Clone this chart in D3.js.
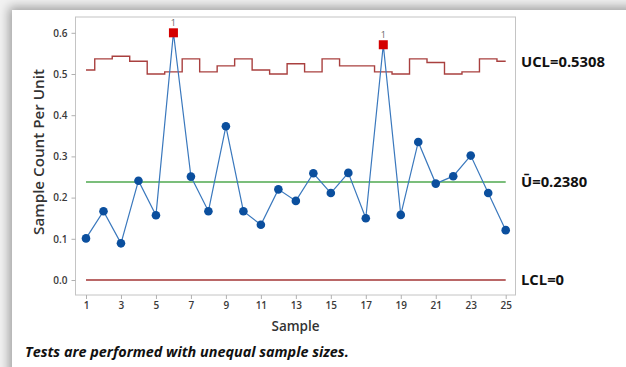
<!DOCTYPE html>
<html>
<head>
<meta charset="utf-8">
<script src="https://cdn.jsdelivr.net/npm/d3@7"></script>
<style>
  html, body { margin: 0; padding: 0; width: 626px; height: 367px; overflow: hidden; background: #f2f2f2; }
  #card { position: absolute; left: 12px; top: 10px; width: 640px; height: 380px; background: #fff;
          box-shadow: 0 0 10px 3px rgba(0,0,0,0.35); }
  svg { position: absolute; left: 0; top: 0; }
  text { font-family: "Open Sans", "Noto Sans", sans-serif; }
</style>
</head>
<body>
<div id="card"></div>
<svg id="chart" width="626" height="367"></svg>
<script>
// U chart: defects per unit for 25 samples of unequal size
const samples = d3.range(1, 26);
const uValues = [0.101, 0.167, 0.089, 0.241, 0.157, 0.600, 0.251, 0.167, 0.373, 0.167,
                 0.134, 0.220, 0.192, 0.259, 0.211, 0.260, 0.150, 0.571, 0.158, 0.335,
                 0.234, 0.252, 0.302, 0.211, 0.121];
const uclValues = [0.5098, 0.5367, 0.5432, 0.5308, 0.4999, 0.5052, 0.5367, 0.5052, 0.5197, 0.5367,
                   0.5098, 0.4999, 0.5250, 0.5052, 0.5367, 0.5197, 0.5197, 0.5052, 0.4999, 0.5367,
                   0.5279, 0.4999, 0.5052, 0.5367, 0.5308];
const centerLine = 0.2380;
const lcl = 0;
const yTicks = [0.0, 0.1, 0.2, 0.3, 0.4, 0.5, 0.6];
const xTicks = [1, 3, 5, 7, 9, 11, 13, 15, 17, 19, 21, 23, 25];
const outOfControl = [6, 18];

const svg = d3.select("#chart");
const plot = { left: 75.5, right: 515.5, top: 17, bottom: 295 };

const x = d3.scaleLinear().domain([1, 25]).range([86, 505.7]);
const y = d3.scaleLinear().domain([0, 0.6]).range([280, 32.8]);

// plot frame
svg.append("rect")
  .attr("x", plot.left).attr("y", plot.top)
  .attr("width", plot.right - plot.left).attr("height", plot.bottom - plot.top)
  .attr("fill", "none").attr("stroke", "#c4c4c4").attr("stroke-width", 1);

// axes
const yAxis = svg.append("g").attr("transform", `translate(${plot.left},0)`)
  .call(d3.axisLeft(y).tickValues(yTicks).tickFormat(d3.format(".1f")).tickSize(4).tickPadding(4));
const xAxis = svg.append("g").attr("transform", `translate(0,${plot.bottom})`)
  .call(d3.axisBottom(x).tickValues(xTicks).tickFormat(d3.format("d")).tickSize(4).tickPadding(3));
[yAxis, xAxis].forEach(g => {
  g.select(".domain").remove();
  g.selectAll(".tick line").attr("stroke", "#b0b0b0");
  g.selectAll(".tick text").attr("fill", "#3a3a3a").style("font-size", "10px")
    .style("font-family", "'Open Sans', sans-serif").style("font-weight", "600");
});

// UCL as a step line, each step centred on its sample
const stepPts = [];
uclValues.forEach((v, i) => {
  const s = samples[i];
  const x0 = i === 0 ? x(s) : x(s - 0.5);
  const x1 = i === uclValues.length - 1 ? x(s) : x(s + 0.5);
  stepPts.push([x0, y(v)], [x1, y(v)]);
});
svg.append("path")
  .attr("d", d3.line()(stepPts))
  .attr("fill", "none").attr("stroke", "#a9403f").attr("stroke-width", 1.4);

// centre line and LCL
svg.append("line")
  .attr("x1", x(1)).attr("x2", x(25)).attr("y1", y(centerLine)).attr("y2", y(centerLine))
  .attr("stroke", "#4fa84f").attr("stroke-width", 1.5);
svg.append("line")
  .attr("x1", x(1)).attr("x2", x(25)).attr("y1", y(lcl)).attr("y2", y(lcl))
  .attr("stroke", "#a33535").attr("stroke-width", 1.4);

// data line
svg.append("path")
  .datum(uValues)
  .attr("d", d3.line().x((d, i) => x(samples[i])).y(d => y(d)))
  .attr("fill", "none").attr("stroke", "#3a78bd").attr("stroke-width", 1.2);

// points in control
svg.append("g").selectAll("circle")
  .data(samples.filter(s => !outOfControl.includes(s)))
  .join("circle")
  .attr("cx", s => x(s)).attr("cy", s => y(uValues[s - 1]))
  .attr("r", 4.3).attr("fill", "#0b4f9e");

// out-of-control points flagged with test 1
const flagged = svg.append("g").selectAll("g")
  .data(outOfControl).join("g");
flagged.append("rect")
  .attr("x", s => x(s) - 4.5).attr("y", s => y(uValues[s - 1]) - 4.5)
  .attr("width", 9).attr("height", 9).attr("fill", "#d40000");
flagged.append("text")
  .attr("x", s => x(s)).attr("y", s => y(uValues[s - 1]) - 7)
  .attr("text-anchor", "middle").attr("fill", "#666").style("font-size", "9px")
  .text("1");

// limit labels
const labelX = 521;
const limitLabels = [
  { v: uclValues[uclValues.length - 1], t: "UCL=0.5308" },
  { v: centerLine, t: "U\u0304=0.2380" },
  { v: lcl, t: "LCL=0" }
];
svg.append("g").selectAll("text")
  .data(limitLabels).join("text")
  .attr("x", labelX).attr("y", d => y(d.v)).attr("dy", "0.36em")
  .attr("fill", "#111").style("font-size", "14.8px").style("font-weight", "700")
  .text(d => d.t);

// axis titles
svg.append("text")
  .attr("x", (plot.left + plot.right) / 2).attr("y", 331)
  .attr("text-anchor", "middle").attr("fill", "#333")
  .style("font-size", "13.5px").style("font-weight", "600")
  .text("Sample");
svg.append("text")
  .attr("transform", "translate(44,152) rotate(-90)")
  .attr("text-anchor", "middle").attr("fill", "#333")
  .style("font-size", "15.2px").style("font-weight", "600")
  .text("Sample Count Per Unit");

// footnote
svg.append("text")
  .attr("x", 25).attr("y", 357)
  .attr("fill", "#111").style("font-size", "14.4px").style("font-weight", "700").style("font-style", "italic")
  .text("Tests are performed with unequal sample sizes.");
</script>
</body>
</html>
